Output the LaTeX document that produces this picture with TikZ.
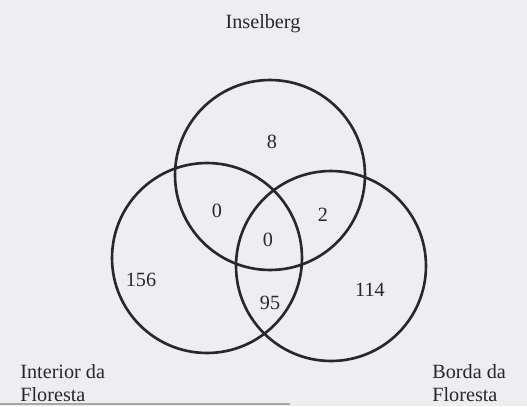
\documentclass[tikz,border=0pt]{standalone}
\usepackage{fontspec}
\setmainfont{Liberation Serif}
\usepackage{tikz}
\usetikzlibrary{positioning}
\definecolor{paper}{RGB}{238,238,241}
\definecolor{ink}{RGB}{40,40,42}

\begin{document}
\begin{tikzpicture}[
  x=0.02cm, y=-0.02cm,
  every node/.style={font=\fontsize{11.5}{13.5}\selectfont, text=ink},
  ring/.style={draw=ink, line width=1.5pt, circle, minimum size=3.8cm, inner sep=0pt},
  count/.style={inner sep=1pt},
  setname/.style={align=left, inner sep=0pt},
]

% page and frame
\fill[paper] (0,0) rectangle (527,406);
\useasboundingbox (0,0) rectangle (527,406);

% the three sets
\node[ring] (ins) at (270,175) {};
\node[ring] (int) at (207,258) {};
\node[ring] (bor) at (331,266) {};

% names
\node (insname) at (263,24) {Inselberg};
\node[setname, anchor=west] (intname) at (20,383) {Interior da\\Floresta};
\node[setname, anchor=west] (borname) at (432,383) {Borda da\\Floresta};

% counts
\node[count] (n8) at (272,142) {8};
\node[count] (n0a) at (217,211) {0};
\node[count] (n2) at (323,215) {2};
\node[count] (n0b) at (268,240) {0};
\node[count] (n156) at (141,280) {156};
\node[count] (n95) at (270,303) {95};
\node[count] (n114) at (370,290) {114};

% rule under the figure
\coordinate (ruleL) at (0,404);
\coordinate (ruleR) at (290,404);
\draw[gray!70, line width=1pt] (ruleL) -- (ruleR);

\end{tikzpicture}
\end{document}
